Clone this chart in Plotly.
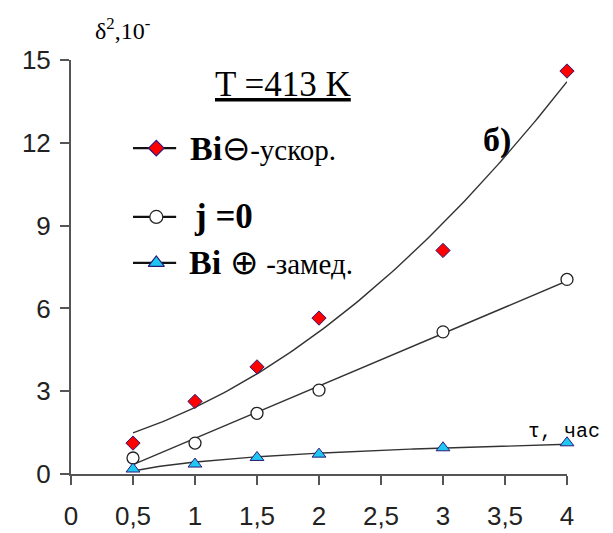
import numpy as np
import plotly.graph_objects as go

# Time, hours
tau = [0.5, 1.0, 1.5, 2.0, 3.0, 4.0]

# delta^2 measurements for the three regimes
bi_minus = [1.12, 2.63, 3.88, 5.65, 8.1, 14.6]   # Bi(-) accelerating
j_zero = [0.58, 1.12, 2.2, 3.04, 5.15, 7.05]     # j = 0
bi_plus = [0.18, 0.36, 0.6, 0.72, 0.95, 1.13]    # Bi(+) decelerating

x_ticks = [0, 0.5, 1, 1.5, 2, 2.5, 3, 3.5, 4]
x_tick_text = ["0", "0,5", "1", "1,5", "2", "2,5", "3", "3,5", "4"]
y_ticks = [0, 3, 6, 9, 12, 15]

LINE = "#333333"
AXIS = "#555555"
RED = "#ff0000"
CYAN = "#1ec8f0"
NAVY = "#2a1a7a"

t = np.array(tau)
tt = np.linspace(0.5, 4.0, 120)

# trend lines: polynomial, linear and logarithmic fits
p_minus = np.polyfit(t, bi_minus, 2)
p_zero = np.polyfit(t, j_zero, 1)
p_plus = np.polyfit(np.log(t), bi_plus, 1)
fit_minus = np.polyval(p_minus, tt)
fit_zero = np.polyval(p_zero, tt)
fit_plus = np.polyval(p_plus, np.log(tt))

fig = go.Figure()

for fit in (fit_minus, fit_zero, fit_plus):
    fig.add_trace(go.Scatter(x=tt, y=fit, mode="lines",
                             line=dict(color=LINE, width=1.4),
                             showlegend=False, hoverinfo="skip"))

fig.add_trace(go.Scatter(x=tau, y=bi_minus, mode="markers",
                         marker=dict(symbol="diamond", size=11, color=RED,
                                     line=dict(color=NAVY, width=1)),
                         showlegend=False, cliponaxis=False))
fig.add_trace(go.Scatter(x=tau, y=j_zero, mode="markers",
                         marker=dict(symbol="circle", size=12, color="white",
                                     line=dict(color="#222222", width=1.3)),
                         showlegend=False, cliponaxis=False))
fig.add_trace(go.Scatter(x=tau, y=bi_plus, mode="markers",
                         marker=dict(symbol="triangle-up", size=12, color=CYAN,
                                     line=dict(color=NAVY, width=1)),
                         showlegend=False, cliponaxis=False))

# legend keys on an overlay axis spanning the plot area
legend_rows = [
    (0.787, "diamond", RED, NAVY, 12),
    (0.621, "circle", "white", "#222222", 13),
    (0.510, "triangle-up", CYAN, NAVY, 14),
]
for yk, sym, fill, edge, sz in legend_rows:
    fig.add_trace(go.Scatter(x=[0.125, 0.212], y=[yk, yk], mode="lines",
                             line=dict(color="#111111", width=2.2),
                             xaxis="x2", yaxis="y2", showlegend=False,
                             hoverinfo="skip"))
    fig.add_trace(go.Scatter(x=[0.172], y=[yk], mode="markers",
                             marker=dict(symbol=sym, size=sz, color=fill,
                                         line=dict(color=edge, width=1.2)),
                             xaxis="x2", yaxis="y2", showlegend=False,
                             hoverinfo="skip", cliponaxis=False))

SERIF = "Liberation Serif, Times New Roman, serif"
annotations = [
    dict(x=0.427, y=0.94, text="<u>T =413 K</u>", font=dict(family=SERIF, size=35, color="black"),
         xanchor="center"),
    dict(x=0.236, y=0.787,
         text="<b>Bi</b>⊖<span style='font-size:29px'>-ускор.</span>",
         font=dict(family=SERIF, size=34, color="black"), xanchor="left"),
    dict(x=0.244, y=0.621, text="<b>j =0</b>",
         font=dict(family=SERIF, size=35, color="black"), xanchor="left"),
    dict(x=0.234, y=0.510,
         text="<b>Bi</b> ⊕ <span style='font-size:29px'>-замед.</span>",
         font=dict(family=SERIF, size=34, color="black"), xanchor="left"),
    dict(x=0.859, y=0.807, text="<b>б)</b>",
         font=dict(family=SERIF, size=34, color="black"), xanchor="center"),
    dict(x=0.918, y=0.102, text="τ, час",
         font=dict(family="Liberation Mono", size=20, color="black"), xanchor="left"),
    dict(x=0.045, y=1.075, text="δ<sup>2</sup>,10<sup>-</sup>",
         font=dict(family=SERIF, size=24, color="black"), xanchor="left"),
]
for a in annotations:
    a.update(xref="paper", yref="paper", yanchor="middle", showarrow=False)

fig.update_layout(
    width=613, height=533,
    margin=dict(l=71, r=46, t=60, b=59),
    paper_bgcolor="white", plot_bgcolor="white",
    showlegend=False,
    annotations=annotations,
    font=dict(family="Liberation Sans", size=26, color="#222222"),
    xaxis=dict(range=[0, 4], tickvals=x_ticks, ticktext=x_tick_text,
               showgrid=False, zeroline=False, showline=True, automargin=False,
               linecolor=AXIS, linewidth=2, ticks="outside", ticklen=9,
               tickwidth=2, tickcolor=AXIS, ticklabelstandoff=9),
    yaxis=dict(range=[0, 15], tickvals=y_ticks, showgrid=False, zeroline=False,
               showline=True, automargin=False, linecolor=AXIS, linewidth=2,
               ticks="outside", ticklen=9, tickwidth=2, tickcolor=AXIS,
               ticklabelstandoff=4),
    xaxis2=dict(range=[0, 1], overlaying="x", visible=False),
    yaxis2=dict(range=[0, 1], overlaying="y", visible=False),
)

fig.write_html("out.html")
